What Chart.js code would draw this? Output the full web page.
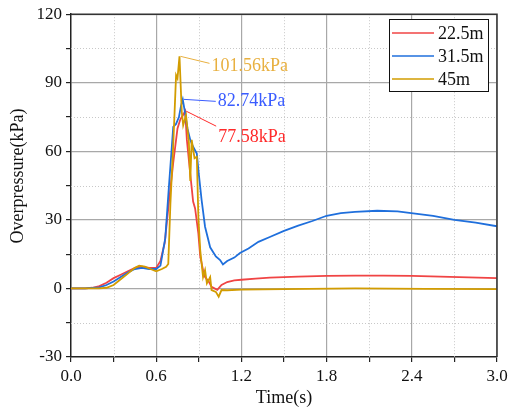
<!DOCTYPE html>
<html>
<head>
<meta charset="utf-8">
<script src="https://cdn.jsdelivr.net/npm/chart.js@4.4.1/dist/chart.umd.min.js"></script>
<style>
  html, body { margin: 0; padding: 0; background: #fff; }
  #wrap { width: 508px; height: 409px; }
</style>
</head>
<body>
<div id="wrap"><canvas id="chart" width="508" height="409"></canvas></div>
<script>
// series labels
const seriesNames = ['22.5m', '31.5m', '45m'];

// 22.5m
const redT = [0, 0.1, 0.15, 0.2, 0.25, 0.3, 0.35, 0.4, 0.45, 0.5, 0.55, 0.6, 0.63, 0.66, 0.69, 0.72, 0.75, 0.77, 0.79, 0.804, 0.816, 0.84, 0.86, 0.874, 0.897, 0.91, 0.93, 0.944, 0.97, 0.99, 1.03, 1.06, 1.1, 1.15, 1.2, 1.3, 1.4, 1.6, 1.8, 2.0, 2.2, 2.4, 2.6, 2.8, 3.0];
const redV = [0, 0, 0.3, 1, 2.5, 4.5, 6, 7.5, 9, 9.5, 9, 9, 12, 20, 38, 55, 70, 74, 76, 77.58, 65, 50, 38, 35, 24, 14, 8, 5, 3, 0.7, -0.6, 1.5, 2.8, 3.5, 3.8, 4.3, 4.7, 5.2, 5.5, 5.6, 5.6, 5.5, 5.2, 4.8, 4.5];

// 31.5m
const blueT = [0, 0.1, 0.2, 0.25, 0.3, 0.35, 0.4, 0.45, 0.5, 0.55, 0.6, 0.63, 0.664, 0.69, 0.71, 0.72, 0.74, 0.76, 0.775, 0.787, 0.8, 0.82, 0.84, 0.86, 0.886, 0.9, 0.92, 0.944, 0.98, 1.02, 1.05, 1.07, 1.1, 1.15, 1.19, 1.25, 1.32, 1.4, 1.5, 1.6, 1.7, 1.8, 1.9, 2.0, 2.156, 2.3, 2.41, 2.55, 2.7, 2.85, 3.0];
const blueV = [0, 0, 0.5, 1.5, 3, 5, 7, 8.5, 9, 8.5, 8.5, 10, 22, 45, 62, 70.7, 72, 75, 80, 82.74, 78, 70, 65, 62, 59, 50, 38.6, 27, 18, 14, 12.4, 10.5, 12, 13.5, 15.5, 17.5, 20.4, 22.5, 25.2, 27.5, 29.5, 31.8, 33, 33.5, 34, 33.7, 32.8, 31.8, 30, 28.8, 27.2];

// 45m
const goldT = [0, 0.1, 0.2, 0.25, 0.3, 0.35, 0.4, 0.45, 0.48, 0.52, 0.56, 0.6, 0.64, 0.67, 0.685, 0.7, 0.72, 0.74, 0.75, 0.764, 0.78, 0.79, 0.81, 0.83, 0.84, 0.85, 0.87, 0.886, 0.897, 0.91, 0.93, 0.944, 0.957, 0.98, 0.99, 1.02, 1.04, 1.06, 1.1, 1.2, 1.5, 2.0, 2.5, 3.0];
const goldV = [0, 0, 0, 0.3, 1.5, 4, 6.5, 9, 10, 9.5, 8.5, 7.5, 8.5, 9.5, 10.7, 37, 62.7, 93.3, 91.9, 101.56, 77.3, 71.4, 75.8, 64, 47, 65, 57, 57.6, 31, 16.8, 5, 8, 2.2, 5, -0.7, -1.5, -3.6, -0.7, -0.8, -0.5, -0.3, 0, -0.2, -0.3];

// axis ticks
const xMajor = [0, 0.6, 1.2, 1.8, 2.4, 3.0];
const yMajor = [-30, 0, 30, 60, 90, 120];
const yTitle = 'Overpressure(kPa)';

const FONT = 'Liberation Serif';
const colors = ['#f04444', '#1f6fdc', '#d29c00'];
const noteColors = ['#ff2a2a', '#3a5cff', '#e8b040'];

function pts(t, v) {
    return t.map((x, i) => ({ x: x, y: v[i] }));
}

function isMajor(list, v) {
    return list.some(m => Math.abs(m - v) < 1e-6);
}

// frame, minor grid, legend, peak notes, y title
const extras = {
    id: 'extras',
    beforeDatasetsDraw(chart) {
        const ctx = chart.ctx;
        const a = chart.chartArea;
        const xs = chart.scales.x, ys = chart.scales.y;
        ctx.save();
        ctx.strokeStyle = '#c8c8c8';
        ctx.lineWidth = 1;
        ctx.setLineDash([1, 2]);
        for (let i = 0; i < xMajor.length - 1; i++) {
            const px = Math.round(xs.getPixelForValue((xMajor[i] + xMajor[i + 1]) / 2)) + 0.5;
            ctx.beginPath(); ctx.moveTo(px, a.top); ctx.lineTo(px, a.bottom); ctx.stroke();
        }
        for (let i = 0; i < yMajor.length - 1; i++) {
            const py = Math.round(ys.getPixelForValue((yMajor[i] + yMajor[i + 1]) / 2)) + 0.5;
            ctx.beginPath(); ctx.moveTo(a.left, py); ctx.lineTo(a.right, py); ctx.stroke();
        }
        ctx.restore();
    },
    afterDraw(chart) {
        const ctx = chart.ctx;
        const a = chart.chartArea;
        const xs = chart.scales.x, ys = chart.scales.y;
        ctx.save();
        // top and right border
        ctx.strokeStyle = '#333';
        ctx.lineWidth = 1.5;
        ctx.beginPath();
        ctx.moveTo(a.left, a.top); ctx.lineTo(a.right, a.top); ctx.lineTo(a.right, a.bottom);
        ctx.stroke();

        // y axis title
        ctx.save();
        ctx.translate(18, 176);
        ctx.rotate(-Math.PI / 2);
        ctx.font = '18px "' + FONT + '"';
        ctx.fillStyle = '#111';
        ctx.textAlign = 'center';
        ctx.textBaseline = 'middle';
        ctx.fillText(yTitle, 0, 0);
        ctx.restore();

        // peak notes
        const notes = [
            { i: 2, dx: 29, dy: 7, tx: 31, ty: 10 },
            { i: 1, dx: 32, dy: 2, tx: 34, ty: 2 },
            { i: 0, dx: 30, dy: 15, tx: 32, ty: 26 }
        ];
        ctx.font = '18px "' + FONT + '"';
        ctx.textBaseline = 'middle';
        notes.forEach(n => {
            const d = chart.data.datasets[n.i].data;
            let pk = d[0];
            d.forEach(p => { if (p.y > pk.y) pk = p; });
            const px = xs.getPixelForValue(pk.x) + 1;
            const py = ys.getPixelForValue(pk.y);
            ctx.strokeStyle = noteColors[n.i];
            ctx.lineWidth = 1;
            ctx.beginPath();
            ctx.moveTo(px, py);
            ctx.lineTo(px + n.dx, py + n.dy);
            ctx.stroke();
            ctx.fillStyle = noteColors[n.i];
            ctx.fillText(pk.y.toFixed(2) + 'kPa', px + n.tx, py + n.ty);
        });

        // legend box
        const lx = 389, ly = 19, lw = 99, lh = 72;
        ctx.fillStyle = '#fff';
        ctx.fillRect(lx, ly, lw, lh);
        ctx.strokeStyle = '#111';
        ctx.lineWidth = 1;
        ctx.strokeRect(lx + 0.5, ly + 0.5, lw, lh);
        chart.data.datasets.forEach((ds, i) => {
            const y = ly + 14 + i * 23;
            ctx.strokeStyle = ds.borderColor;
            ctx.lineWidth = 1.5;
            ctx.beginPath(); ctx.moveTo(lx + 3, y); ctx.lineTo(lx + 45, y); ctx.stroke();
            ctx.fillStyle = '#111';
            ctx.fillText(ds.label, lx + 49, y + 1);
        });
        ctx.restore();
    }
};

const datasets = [
    { label: seriesNames[0], data: pts(redT, redV), order: 2 },
    { label: seriesNames[1], data: pts(blueT, blueV), order: 1 },
    { label: seriesNames[2], data: pts(goldT, goldV), order: 0 }
].map((ds, i) => Object.assign(ds, {
    borderColor: colors[i],
    backgroundColor: colors[i],
    borderWidth: 1.8,
    pointRadius: 0,
    tension: 0,
    fill: false
}));

new Chart(document.getElementById('chart'), {
    type: 'line',
    data: { datasets: datasets },
    plugins: [extras],
    options: {
        responsive: false,
        animation: false,
        layout: { padding: { top: 14, right: 11, left: 0, bottom: 0 } },
        plugins: { legend: { display: false }, tooltip: { enabled: false } },
        scales: {
            x: {
                type: 'linear',
                min: 0,
                max: 3,
                afterBuildTicks(scale) {
                    const t = [];
                    for (let i = 0; i <= 10; i++) t.push({ value: i * 0.3 });
                    scale.ticks = t;
                },
                afterFit(scale) {
                    scale.height = 52;
                    scale.paddingRight = 0;
                    scale.paddingLeft = 0;
                },
                border: { color: '#222', width: 1.5 },
                grid: {
                    color: c => isMajor(xMajor, c.tick.value) && c.tick.value !== 0 ? '#a8a8a8' : 'rgba(0,0,0,0)',
                    lineWidth: 1.2,
                    tickColor: '#222',
                    tickLength: 5,
                    tickWidth: 1.2
                },
                ticks: {
                    autoSkip: false,
                    maxRotation: 0,
                    padding: 4,
                    color: '#111',
                    font: { family: FONT, size: 17 },
                    callback: v => isMajor(xMajor, v) ? v.toFixed(1) : ''
                },
                title: {
                    display: true,
                    text: 'Time(s)',
                    color: '#111',
                    padding: { top: -5, bottom: 0 },
                    font: { family: FONT, size: 18 }
                }
            },
            y: {
                min: -30,
                max: 120,
                afterBuildTicks(scale) {
                    const t = [];
                    for (let v = -30; v <= 120; v += 15) t.push({ value: v });
                    scale.ticks = t;
                },
                afterFit(scale) { scale.width = 71; },
                border: { color: '#222', width: 1.5 },
                grid: {
                    color: c => isMajor(yMajor, c.tick.value) && c.tick.value !== -30 ? '#a8a8a8' : 'rgba(0,0,0,0)',
                    lineWidth: 1.2,
                    tickColor: '#222',
                    tickLength: 5,
                    tickWidth: 1.2
                },
                ticks: {
                    autoSkip: false,
                    padding: 4,
                    color: '#111',
                    font: { family: FONT, size: 17 },
                    callback: v => isMajor(yMajor, v) ? String(v) : ''
                },
                title: { display: false }
            }
        }
    }
});
</script>
</body>
</html>
